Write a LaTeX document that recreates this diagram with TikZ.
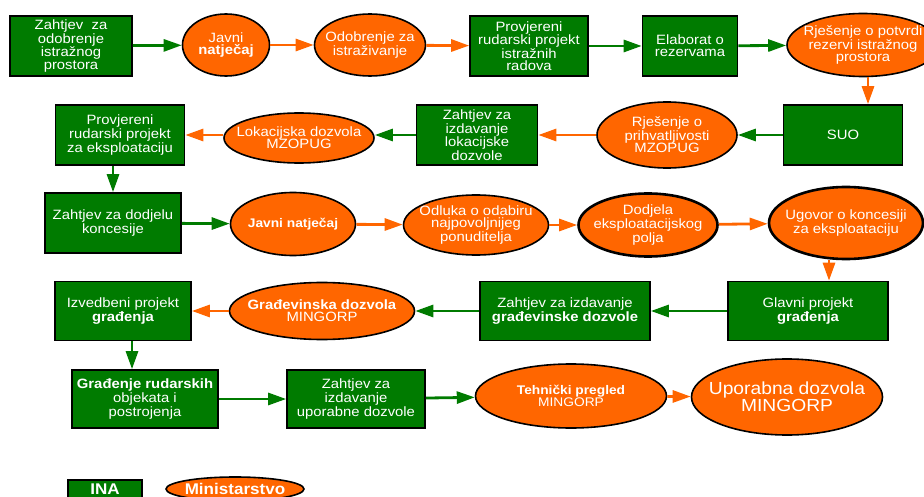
\documentclass[tikz,border=0pt]{standalone}
\usepackage{fontspec}
\setmainfont{Liberation Sans}[FakeStretch=1.1]
\usetikzlibrary{shapes.geometric,arrows.meta}
\definecolor{inagreen}{RGB}{0,123,0}
\definecolor{minorange}{RGB}{255,102,0}
\begin{document}
\begin{tikzpicture}[x=1pt,y=-1pt,
  every node/.style={text=white,align=center,inner sep=0pt,font=\fontsize{13.5}{12.3}\selectfont},
  inabox/.style={draw=black,line width=1.6pt,fill=inagreen,rectangle},
  minell/.style={draw=black,line width=1.6pt,fill=minorange,ellipse,inner xsep=-25pt,inner ysep=-8pt},
  thickell/.style={minell,line width=2.6pt},
  ga/.style={draw=inagreen,line width=2.8pt,-{Triangle[length=18pt,width=12pt]}},
  oa/.style={draw=minorange,line width=2.8pt,-{Triangle[length=18pt,width=12pt]}},
  sz/.style 2 args={minimum width=#1pt,minimum height=#2pt}]
\useasboundingbox (0,0) rectangle (924,497);
\clip (0,0) rectangle (924,497);
% Row 1
\node[inabox,sz={122}{60}] (b1) at (71,46) {Zahtjev\ \ za\\odobrenje\\istražnog\\prostora};
\node[minell,sz={87}{62}] (e1) at (226,45) {Javni\\\textbf{natječaj}};
\node[minell,sz={111}{62}] (e2) at (370,45) {Odobrenje za\\istraživanje};
\node[inabox,sz={118}{60}] (b2) at (529,46) {Provjereni\\rudarski projekt\\istražnih\\radova};
\node[inabox,sz={95}{60}] (b3) at (690,46) {Elaborat o\\rezervama};
\node[minell,sz={152}{63}] (e3) at (863,45) {Rješenje o potvrdi\\rezervi istražnog\\prostora};
% Row 2
\node[inabox,sz={129}{60}] (b4) at (120,135) {Provjereni\\rudarski projekt\\za eksploataciju};
\node[minell,sz={150}{50}] (e4) at (299,138) {Lokacijska dozvola\\MZOPUG};
\node[inabox,sz={121}{60}] (b5) at (477,135) {Zahtjev za\\izdavanje\\lokacijske\\dozvole};
\node[minell,sz={140}{66}] (e5) at (667,135) {Rješenje o\\prihvatljivosti\\MZOPUG};
\node[inabox,sz={119}{60}] (b6) at (843,135) {SUO};
% Row 3
\node[inabox,sz={136}{60}] (b7) at (113,223) {Zahtjev za dodjelu\\koncesije};
\node[minell,sz={125}{63},font=\fontsize{12.5}{12.3}\selectfont\bfseries] (e6) at (293,224) {Javni natječaj};
\node[minell,sz={145}{60}] (e7) at (476,225) {Odluka o odabiru\\najpovoljnijeg\\ponuditelja};
\node[thickell,sz={139}{63}] (e8) at (648,225) {Dodjela\\eksploatacijskog\\polja};
\node[thickell,sz={154}{72}] (e9) at (846,223) {Ugovor o koncesiji\\za eksploataciju};
% Row 4
\node[inabox,sz={136}{59}] (b8) at (123,311) {Izvedbeni projekt\\\textbf{građenja}};
\node[minell,sz={185}{57}] (e10) at (322,311) {\textbf{Građevinska dozvola}\\MINGORP};
\node[inabox,sz={170}{59}] (b9) at (565,311) {Zahtjev za izdavanje\\\textbf{građevinske dozvole}};
\node[inabox,sz={160}{59}] (b10) at (808,311) {Glavni projekt\\\textbf{građenja}};
% Row 5
\node[inabox,sz={146}{58}] (b11) at (145,399) {\textbf{Građenje rudarskih}\\objekata i\\postrojenja};
\node[inabox,sz={138}{58}] (b12) at (356,399) {Zahtjev za\\izdavanje\\uporabne dozvole};
\node[minell,sz={191}{64},font=\fontsize{12.5}{12.3}\selectfont] (e11) at (571,396) {\textbf{Tehnički pregled}\\MINGORP};
\node[minell,sz={191}{76},font=\fontsize{17.5}{16.7}\selectfont] (e12) at (787,397) {Uporabna dozvola\\MINGORP};
% Legend
\node[inabox,sz={74}{18},font=\fontsize{15.5}{15}\selectfont\bfseries] (l1) at (105,489) {INA};
\node[minell,sz={138}{24},font=\fontsize{15.5}{15}\selectfont\bfseries] (l2) at (235,489) {Ministarstvo};
% Connectors row 1
\draw[ga] (b1) -- (e1);
\draw[oa] (e1) -- (e2);
\draw[oa] (e2) -- (b2);
\draw[ga] (b2) -- (b3);
\draw[ga] (b3) -- (e3);
\draw[oa] ([xshift=5pt]e3.south) -- ([xshift=5pt]e3.south |- b6.north);
% Row 2
\draw[ga] (b6) -- (e5);
\draw[oa] (e5) -- (b5);
\draw[ga] (b5.west) -- (b5.west -| e4.east);
\draw[oa] (e4.west |- b4.east) -- (b4.east);
\draw[ga] (b7.north |- b4.south) -- (b7.north);
% Row 3
\draw[ga] (b7) -- (e6);
\draw[oa] (e6) -- (e7);
\draw[oa] (e7) -- (e8);
\draw[oa] (e8) -- (e9);
\draw[oa] ([xshift=-17pt]e9.south) -- ([xshift=-17pt]e9.south |- b10.north);
% Row 4
\draw[ga] (b10) -- (b9);
\draw[ga] (b9) -- (e10);
\draw[oa] (e10) -- (b8);
\draw[ga] ([xshift=9pt]b8.south) -- ([xshift=9pt]b8.south |- b11.north);
% Row 5
\draw[ga] (b11) -- (b12);
\draw[ga] (b12) -- (e11);
\draw[oa] (e11) -- (e12);
\end{tikzpicture}
\end{document}
